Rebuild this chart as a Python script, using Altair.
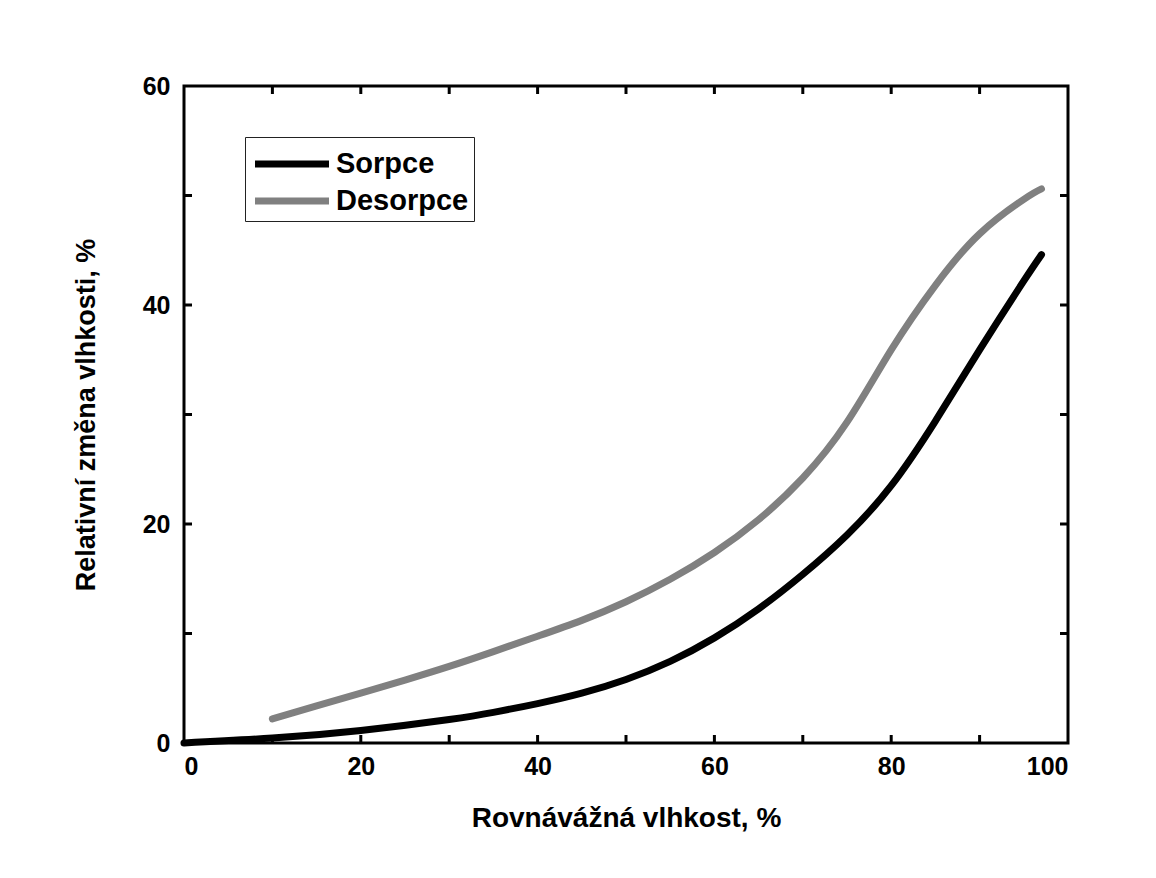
import altair as alt
import pandas as pd

# Sorption curve
sorp_x = [0, 10, 20, 30, 35, 40, 45, 50, 55, 60, 65, 70, 75, 80, 85, 90, 95, 97]
sorp_y = [0, 0.45, 1.15, 2.15, 2.8, 3.6, 4.55, 5.8, 7.45, 9.6, 12.25, 15.4, 19.0, 23.5, 29.4, 35.9, 42.2, 44.6]
# Desorption curve
des_x = [10, 15, 20, 25, 30, 35, 40, 45, 50, 55, 60, 65, 70, 75, 80, 85, 90, 95, 97]
des_y = [2.2, 3.4, 4.55, 5.75, 7.0, 8.35, 9.75, 11.2, 12.9, 14.95, 17.4, 20.4, 24.2, 29.3, 35.9, 41.8, 46.5, 49.65, 50.6]

series_names = ["Sorpce", "Desorpce"]
series_colors = ["#000000", "#808080"]

x_tick_minor = [10, 20, 30, 40, 50, 60, 70, 80, 90]
y_tick_minor = [10, 20, 30, 40, 50]
x_labels = [0, 20, 40, 60, 80, 100]
y_labels = [0, 20, 40, 60]

W, H = 884, 657
FONT = "Liberation Sans"

df = pd.concat([
    pd.DataFrame({"x": sorp_x, "y": sorp_y, "s": series_names[0], "o": range(len(sorp_x))}),
    pd.DataFrame({"x": des_x, "y": des_y, "s": series_names[1], "o": range(len(des_x))}),
])

xscale = alt.Scale(domain=[0, 100], nice=False)
yscale = alt.Scale(domain=[0, 60], nice=False)

lines = alt.Chart(df).mark_line(strokeWidth=7, strokeCap="round", interpolate="natural").encode(
    x=alt.X("x:Q", scale=xscale, axis=alt.Axis(
        values=x_labels, title="Rovnávážná vlhkost, %", grid=False, domain=False, ticks=False,
        labelFont=FONT, labelFontSize=25, labelFontWeight="bold", labelColor="#000", labelPadding=11,
        titleFont=FONT, titleFontSize=28, titleFontWeight="bold", titleColor="#000",
        titleX=W / 2, titleY=75, titleBaseline="middle", titleAlign="center")),
    y=alt.Y("y:Q", scale=yscale, axis=alt.Axis(
        values=y_labels, title="Relativní změna vlhkosti, %", grid=False, domain=False, ticks=False,
        labelFont=FONT, labelFontSize=25, labelFontWeight="bold", labelColor="#000", labelPadding=14,
        titleFont=FONT, titleFontSize=27, titleFontWeight="bold", titleColor="#000",
        titleX=-98, titleY=H / 2, titleAngle=-90, titleBaseline="middle", titleAlign="center")),
    color=alt.Color("s:N", scale=alt.Scale(domain=series_names, range=series_colors),
                    sort=series_names,
                    legend=alt.Legend(title=None, orient="none", legendX=61, legendY=51,
                                      symbolType="M-2,0H2", symbolSize=1369, symbolStrokeWidth=7,
                                      symbolOffset=20,
                                      labelFont=FONT, labelFontSize=29, labelFontWeight="bold",
                                      labelColor="#000", labelOffset=22, padding=5, rowPadding=0,
                                      strokeColor="#222", fillColor="white")),
    order="o:Q",
)

tx = pd.DataFrame({"t": x_tick_minor})
ty = pd.DataFrame({"t": y_tick_minor})
tick_style = dict(color="#000", strokeWidth=3)

bottom = alt.Chart(tx).mark_rule(**tick_style).encode(x=alt.X("t:Q", scale=xscale), y=alt.value(H), y2=alt.value(H - 8))
top = alt.Chart(tx).mark_rule(**tick_style).encode(x=alt.X("t:Q", scale=xscale), y=alt.value(0), y2=alt.value(8))
left = alt.Chart(ty).mark_rule(**tick_style).encode(y=alt.Y("t:Q", scale=yscale), x=alt.value(0), x2=alt.value(8))
right = alt.Chart(ty).mark_rule(**tick_style).encode(y=alt.Y("t:Q", scale=yscale), x=alt.value(W), x2=alt.value(W - 8))

chart = alt.layer(bottom, top, left, right, lines).properties(
    width=W, height=H,
    autosize=alt.AutoSizeParams(type="none"),
    padding={"left": 176, "top": 78, "right": 80, "bottom": 127},
    background="white",
).configure_view(stroke="#000", strokeWidth=3)

chart.save("out.html", embed_options={"renderer": "svg", "actions": False})
